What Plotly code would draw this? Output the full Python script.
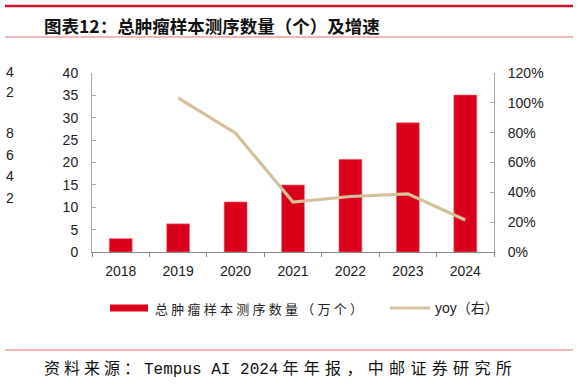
import plotly.graph_objects as go

years = ["2018", "2019", "2020", "2021", "2022", "2023", "2024"]
samples = [3.0, 6.3, 11.2, 15.0, 20.7, 28.9, 35.1]          # 万个
yoy = [None, 103.3, 79.6, 33.5, 37.2, 39.0, 21.4]            # %
left_ticks = [0, 5, 10, 15, 20, 25, 30, 35, 40]
right_ticks = [0, 20, 40, 60, 80, 100, 120]
stray_labels = ["4", "2", "8", "6", "4", "2"]
stray_y = [72, 92, 133, 155, 176, 198]

title = "图表12：总肿瘤样本测序数量（个）及增速"
legend_bar = "总肿瘤样本测序数量（万个）"
legend_line = "yoy（右）"
src_a = "资料来源："
src_b = "Tempus AI 2024"
src_c = "年年报，中邮证券研究所"

W, H = 578, 385
L, R, T, B = 92, 84, 73, 133
PW, PH = W - L - R, H - T - B
BAR = "#D9001B"
LINE = "#D5C29D"
TICKF = dict(family="Liberation Sans, Arial, sans-serif", size=14, color="#222")
CJK = "Noto Sans CJK SC"

def spaced(s, sp="\u2005"):
    return sp.join(list(s))

def px(x):
    return (x - L) / PW
def py(y):
    return (H - B - y) / PH

fig = go.Figure()
fig.add_trace(go.Bar(x=years, y=samples, marker=dict(color=BAR, line=dict(color="#F08080", width=0.6)),
                     showlegend=False, yaxis="y"))
fig.add_trace(go.Scatter(x=years, y=yoy, mode="lines", line=dict(color=LINE, width=3.2),
                         showlegend=False, yaxis="y2", connectgaps=False))

shapes = [
    dict(type="line", xref="paper", yref="paper", x0=px(5), x1=px(573), y0=py(6), y1=py(6),
         line=dict(color="#D0112B", width=2.5)),
    dict(type="line", xref="paper", yref="paper", x0=px(5), x1=px(573), y0=py(37), y1=py(37),
         line=dict(color="#E57373", width=1.2)),
    dict(type="line", xref="paper", yref="paper", x0=px(5), x1=px(573), y0=py(350), y1=py(350),
         line=dict(color="#E57373", width=1.2)),
    dict(type="rect", xref="paper", yref="paper", x0=px(110), x1=px(148), y0=py(311.5), y1=py(304.5),
         fillcolor=BAR, line=dict(width=0)),
    dict(type="line", xref="paper", yref="paper", x0=px(390), x1=px(430), y0=py(308), y1=py(308),
         line=dict(color=LINE, width=3)),
]

footer = (spaced(src_a) + "\u2005<span style='font-family:Liberation Mono'>" + src_b + "</span>\u2005"
          + spaced(src_c, "\u2004"))

annotations = [
    dict(text=title, x=px(42), y=py(25), xref="paper", yref="paper", xanchor="left", yanchor="middle",
         showarrow=False, font=dict(family=CJK, size=17.5, color="#111", weight="bold")),
    dict(text=spaced(legend_bar), x=px(153), y=py(308), xref="paper", yref="paper", xanchor="left",
         yanchor="middle", showarrow=False, font=dict(family=CJK, size=13, color="#222")),
    dict(text=legend_line, x=px(433), y=py(308), xref="paper", yref="paper", xanchor="left",
         yanchor="middle", showarrow=False, font=dict(family="Liberation Sans, " + CJK, size=14, color="#222")),
    dict(text=footer, x=px(42), y=py(367), xref="paper", yref="paper", xanchor="left",
         yanchor="middle", showarrow=False, font=dict(family=CJK, size=16, color="#111")),
]
for t, yy in zip(stray_labels, stray_y):
    annotations.append(dict(text=t, x=px(10), y=py(yy), xref="paper", yref="paper", xanchor="center",
                            yanchor="middle", showarrow=False, font=TICKF))

fig.update_layout(
    width=W, height=H, margin=dict(l=L, r=R, t=T, b=B),
    paper_bgcolor="white", plot_bgcolor="white",
    bargap=0.6,
    xaxis=dict(type="category", tickfont=TICKF, showline=True, linecolor="#888", linewidth=1,
               ticks="outside", tickson="boundaries", ticklen=4, tickcolor="#888", showgrid=False,
               ticklabelstandoff=6),
    yaxis=dict(range=[0, 40], tickvals=left_ticks, tickfont=TICKF, showline=True, linecolor="#aaa",
               linewidth=1, ticks="inside", ticklen=4, tickcolor="#aaa", showgrid=False, zeroline=False,
               ticklabelstandoff=10),
    yaxis2=dict(range=[0, 120], tickvals=right_ticks, ticktext=[f"{v}%" for v in right_ticks],
                overlaying="y", side="right", tickfont=TICKF, showline=True, linecolor="#aaa",
                linewidth=1, ticks="inside", ticklen=4, tickcolor="#aaa", showgrid=False, zeroline=False,
                ticklabelstandoff=10),
    shapes=shapes, annotations=annotations,
)

fig.write_html("out.html")
